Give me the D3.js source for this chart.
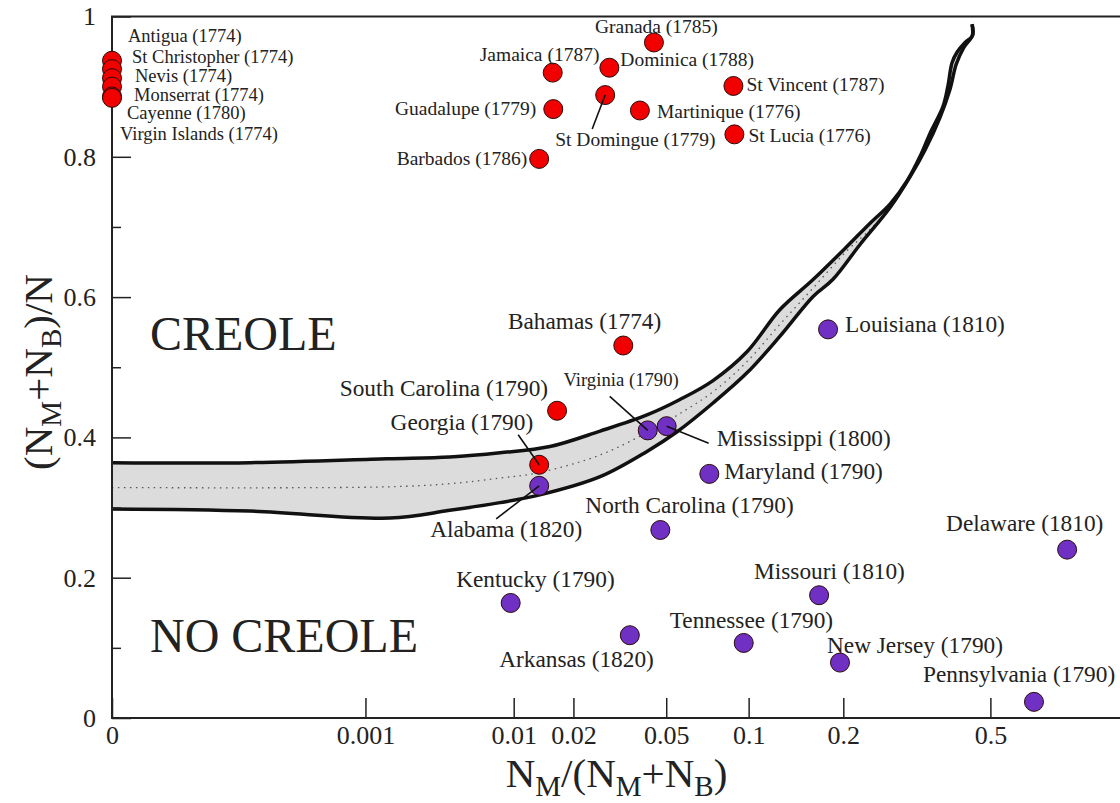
<!DOCTYPE html>
<html>
<head>
<meta charset="utf-8">
<script src="https://cdn.jsdelivr.net/npm/d3@7"></script>
<style>
body { margin: 0; background: #fff; }
svg text { font-family: "Liberation Serif", "Times New Roman", serif; fill: #222; }
</style>
</head>
<body>
<div id="chart"></div>
<script>
const width = 1120, height = 803;

// axis ticks
const xTicks = [0, 0.001, 0.01, 0.02, 0.05, 0.1, 0.2, 0.5];
const yTicks = [0, 0.2, 0.4, 0.6, 0.8, 1];
const yMinor = [0.1, 0.3, 0.5, 0.7, 0.9];

// creole colonies (red)
const creoleNames = ["Antigua (1774)", "St Christopher (1774)", "Nevis (1774)", "Monserrat (1774)",
    "Cayenne (1780)", "Virgin Islands (1774)", "Granada (1785)", "Jamaica (1787)", "Dominica (1788)",
    "St Vincent (1787)", "Guadalupe (1779)", "St Domingue (1779)", "Martinique (1776)", "St Lucia (1776)",
    "Barbados (1786)", "Bahamas (1774)", "South Carolina (1790)", "Georgia (1790)"];
const creoleX = [0, 0, 0, 0, 0, 0, 0.0447, 0.0159, 0.0291, 0.0886, 0.0160, 0.0279, 0.0392, 0.0893,
    0.0136, 0.0334, 0.0167, 0.0136];
const creoleY = [0.937, 0.925, 0.912, 0.900, 0.886, 0.884, 0.963, 0.920, 0.927, 0.901, 0.868, 0.888,
    0.866, 0.832, 0.797, 0.531, 0.438, 0.361];

// no creole (purple)
const noCreoleNames = ["Alabama (1820)", "Virginia (1790)", "Mississippi (1800)", "Maryland (1790)",
    "Louisiana (1810)", "North Carolina (1790)", "Delaware (1810)", "Kentucky (1790)", "Missouri (1810)",
    "Arkansas (1820)", "Tennessee (1790)", "New Jersey (1790)", "Pennsylvania (1790)"];
const noCreoleX = [0.0136, 0.0422, 0.0502, 0.0727, 0.180, 0.0474, 0.76, 0.00963, 0.169, 0.0356,
    0.0962, 0.1955, 0.637];
const noCreoleY = [0.331, 0.410, 0.416, 0.348, 0.554, 0.268, 0.240, 0.164, 0.175, 0.118, 0.107,
    0.079, 0.023];

// boundary band
const upperX = [0, 0.0000479, 0.0015, 0.0042, 0.0084, 0.0154, 0.0265, 0.0419, 0.0565, 0.075, 0.0987,
    0.127, 0.162, 0.204, 0.239, 0.273, 0.304, 0.329, 0.350, 0.379, 0.390, 0.400, 0.412, 0.432, 0.450, 0.450];
const upperY = [0.364, 0.364, 0.3695, 0.372, 0.378, 0.387, 0.409, 0.432, 0.454, 0.481, 0.522,
    0.582, 0.625, 0.671, 0.705, 0.733, 0.766, 0.800, 0.833, 0.872, 0.900, 0.934, 0.949, 0.963, 0.972, 0.989];
const lowerX = [0, 0.0000479, 0.00159, 0.0042, 0.0084, 0.0137, 0.0265, 0.0419, 0.0551, 0.075, 0.0987,
    0.127, 0.162, 0.186, 0.224, 0.273, 0.310, 0.340, 0.372, 0.395, 0.410, 0.429, 0.452, 0.450];
const lowerY = [0.298, 0.295, 0.285, 0.296, 0.307, 0.318, 0.344, 0.380, 0.408, 0.449, 0.492,
    0.544, 0.601, 0.625, 0.675, 0.728, 0.772, 0.810, 0.856, 0.896, 0.932, 0.956, 0.974, 0.989];
const midX = [0, 0.0015, 0.0042, 0.0084, 0.0137, 0.0265, 0.0419, 0.0565, 0.075, 0.0987, 0.127,
    0.162, 0.204, 0.239, 0.273, 0.304];
const midY = [0.3285, 0.3295, 0.334, 0.342, 0.350, 0.375, 0.407, 0.434, 0.465, 0.508, 0.561,
    0.613, 0.665, 0.696, 0.729, 0.768];

// label placement: [dx, dy, anchor, font size] from the circle centre
const labelAt = {
    "Antigua (1774)": [16, -19, "start", 18.5],
    "St Christopher (1774)": [20, -6, "start", 18.5],
    "Nevis (1774)": [23, 4, "start", 18.5],
    "Monserrat (1774)": [22, 14, "start", 18.5],
    "Cayenne (1780)": [15, 23, "start", 18.5],
    "Virgin Islands (1774)": [8, 42, "start", 18.5],
    "Granada (1785)": [-59, -9, "start", 19.5],
    "Jamaica (1787)": [-73, -12, "start", 19.5],
    "Dominica (1788)": [11, -2, "start", 19.5],
    "St Vincent (1787)": [13, 5, "start", 19.5],
    "Guadalupe (1779)": [-17, 6, "end", 19.5],
    "St Domingue (1779)": [-50, 51, "start", 19.5],
    "Martinique (1776)": [17, 7, "start", 19.5],
    "St Lucia (1776)": [14, 8, "start", 19.5],
    "Barbados (1786)": [-12, 6, "end", 19.5],
    "Bahamas (1774)": [38, -17, "end", 23.3],
    "South Carolina (1790)": [-9, -15, "end", 23.3],
    "Georgia (1790)": [-6, -35, "end", 23.3],
    "Alabama (1820)": [-109, 51, "start", 23.3],
    "Virginia (1790)": [31, -44, "end", 18.7],
    "Mississippi (1800)": [50, 20, "start", 23.3],
    "Maryland (1790)": [15, 5, "start", 23.3],
    "Louisiana (1810)": [17, 3, "start", 23.3],
    "North Carolina (1790)": [-75, -17, "start", 23.3],
    "Delaware (1810)": [-121, -19, "start", 23.3],
    "Kentucky (1790)": [104, -16, "end", 23.3],
    "Missouri (1810)": [-65, -16, "start", 23.3],
    "Arkansas (1820)": [24, 32, "end", 23.3],
    "Tennessee (1790)": [-74, -15, "start", 23.3],
    "New Jersey (1790)": [-13, -10, "start", 23.3],
    "Pennsylvania (1790)": [-111, -20, "start", 23.3]
};
// leader lines: end point relative to circle centre
const leaders = {
    "St Domingue (1779)": [-13, 34],
    "Georgia (1790)": [-21, -30],
    "Alabama (1820)": [-43, 33],
    "Virginia (1790)": [-38, -34],
    "Mississippi (1800)": [42, 17]
};

var svg = d3.select("#chart").append("svg")
    .attr("width", width)
    .attr("height", height);

var x = d3.scalePow().exponent(0.2).domain([0, 1]).range([112, 1121]);
var y = d3.scaleLinear().domain([0, 1]).range([718, 16.5]);

var line = d3.line()
    .x(d => x(d[0]))
    .y(d => y(d[1]))
    .curve(d3.curveCatmullRom.alpha(0.5));

var upper = upperX.map((v, i) => [v, upperY[i]]);
var lower = lowerX.map((v, i) => [v, lowerY[i]]);
var mid = midX.map((v, i) => [v, midY[i]]);

// band
svg.append("path")
    .attr("d", line(upper.concat(lower.slice().reverse())) + "Z")
    .attr("fill", "#dcdcdc")
    .attr("stroke", "none");
svg.append("path")
    .attr("d", line(mid))
    .attr("fill", "none")
    .attr("stroke", "#555")
    .attr("stroke-width", 1.3)
    .attr("stroke-dasharray", "1.5,4.5");
[upper, lower].forEach(pts => {
    svg.append("path")
        .attr("d", line(pts))
        .attr("fill", "none")
        .attr("stroke", "#111")
        .attr("stroke-width", 3.5)
        .attr("stroke-linejoin", "round");
});

// axes
var xAxis = svg.append("g")
    .attr("transform", `translate(0,${y(0)})`)
    .call(d3.axisBottom(x).tickValues(xTicks).tickFormat(d => d)
        .tickSizeInner(-20).tickSizeOuter(0).tickPadding(8));
var yAxis = svg.append("g")
    .attr("transform", `translate(${x(0)},0)`)
    .call(d3.axisLeft(y).tickValues(yTicks).tickFormat(String)
        .tickSizeInner(-19).tickSizeOuter(0).tickPadding(16));
var yAxisMinor = svg.append("g")
    .attr("transform", `translate(${x(0)},0)`)
    .call(d3.axisLeft(y).tickValues(yMinor).tickFormat("")
        .tickSizeInner(-9).tickSizeOuter(0));

[xAxis, yAxis, yAxisMinor].forEach(g => {
    g.select(".domain").remove();
    g.selectAll(".tick line").attr("stroke", "#222").attr("stroke-width", 1.5);
    g.selectAll(".tick text")
        .attr("font-family", null)
        .attr("font-size", 26)
        .attr("fill", "#222");
    g.attr("font-family", null).attr("font-size", null);
});

// frame (left, top, bottom)
svg.append("path")
    .attr("d", `M${x(1)},${y(1)}H${x(0)}V${y(0)}H${x(1)}`)
    .attr("fill", "none")
    .attr("stroke", "#222")
    .attr("stroke-width", 2);

// points
var drawPoints = function(names, xs, ys, colour) {
    svg.append("g").selectAll("circle")
        .data(names)
        .enter().append("circle")
        .attr("cx", (d, i) => x(xs[i]))
        .attr("cy", (d, i) => y(ys[i]))
        .attr("r", 9.5)
        .attr("fill", colour)
        .attr("stroke", "#2a0a0a")
        .attr("stroke-width", 1);
};
drawPoints(creoleNames, creoleX, creoleY, "#f20000");
drawPoints(noCreoleNames, noCreoleX, noCreoleY, "#7030c4");

var allNames = creoleNames.concat(noCreoleNames);
var allX = creoleX.concat(noCreoleX);
var allY = creoleY.concat(noCreoleY);

// leader lines
svg.append("g").selectAll("line")
    .data(allNames.filter(n => leaders[n]))
    .enter().append("line")
    .attr("x1", n => x(allX[allNames.indexOf(n)]))
    .attr("y1", n => y(allY[allNames.indexOf(n)]))
    .attr("x2", n => x(allX[allNames.indexOf(n)]) + leaders[n][0])
    .attr("y2", n => y(allY[allNames.indexOf(n)]) + leaders[n][1])
    .attr("stroke", "#111")
    .attr("stroke-width", 1.6);

// labels
svg.append("g").selectAll("text")
    .data(allNames)
    .enter().append("text")
    .attr("x", (n, i) => x(allX[i]) + labelAt[n][0])
    .attr("y", (n, i) => y(allY[i]) + labelAt[n][1])
    .attr("text-anchor", n => labelAt[n][2])
    .attr("font-size", n => labelAt[n][3])
    .text(n => n);

// region names
svg.append("text").attr("x", 150).attr("y", 350).attr("font-size", 48).text("CREOLE");
svg.append("text").attr("x", 150).attr("y", 652).attr("font-size", 48).text("NO CREOLE");

// axis titles with subscripts
var subText = function(t, parts) {
    var shift = 0;
    parts.forEach(p => {
        var s = p[1] ? 9 : 0;
        t.append("tspan")
            .attr("dy", s - shift)
            .attr("font-size", p[1] ? 29 : 41)
            .text(p[0]);
        shift = s;
    });
};
subText(svg.append("text")
        .attr("x", (x(0) + x(1)) / 2)
        .attr("y", 787)
        .attr("text-anchor", "middle")
        .attr("font-size", 41),
    [["N", 0], ["M", 1], ["/(N", 0], ["M", 1], ["+N", 0], ["B", 1], [")", 0]]);
subText(svg.append("text")
        .attr("transform", "translate(52,372) rotate(-90)")
        .attr("text-anchor", "middle")
        .attr("font-size", 41),
    [["(N", 0], ["M", 1], ["+N", 0], ["B", 1], [")/N", 0]]);
</script>
</body>
</html>
